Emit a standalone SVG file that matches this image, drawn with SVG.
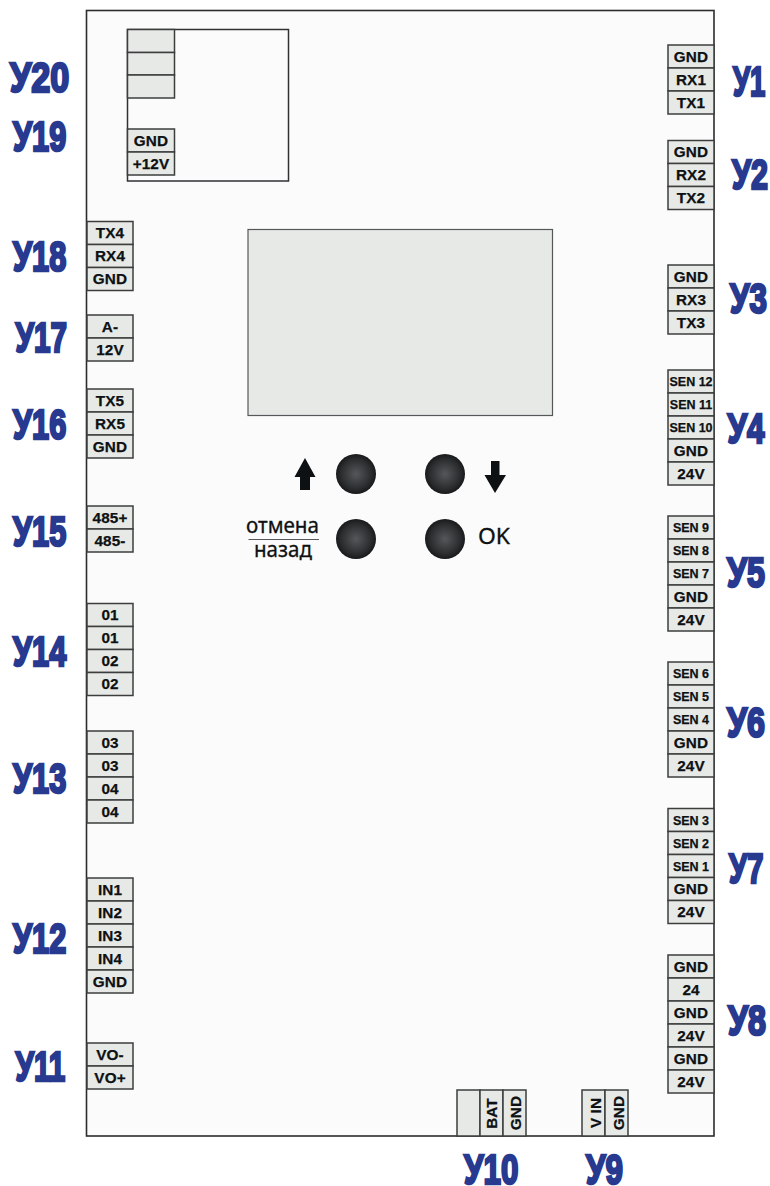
<svg xmlns="http://www.w3.org/2000/svg" width="770" height="1186" viewBox="0 0 770 1186">
<style>
.c{fill:#e7e9e6;stroke:#3c3e3e;stroke-width:1.5}
.t{font-family:"Liberation Sans",Arial,sans-serif;font-weight:700;font-size:15.300px;fill:#0d1113;stroke:#0d1113;stroke-width:.25;text-anchor:middle;letter-spacing:.1px}
.s{font-size:12.500px;letter-spacing:0}
.l{font-family:"Liberation Sans",Arial,sans-serif;font-weight:700;font-size:43px;fill:#273a8f;stroke:#273a8f;stroke-width:2.600}
.h{font-family:"Noto Sans","Open Sans",sans-serif;font-size:21px;fill:#0d1113;stroke:#0d1113;stroke-width:.3}
.b{fill:url(#btn)}
</style>
<defs>
<radialGradient id="btn"><stop offset="0" stop-color="#55585a"/><stop offset=".75" stop-color="#2a2c2e"/><stop offset="1" stop-color="#17191b"/></radialGradient>
</defs>
<rect width="770" height="1186" fill="#fff"/>
<g id="board">
<rect x="86.500" y="10.500" width="627.500" height="1125.500" fill="#fbfbfb" stroke="#2a2c2d" stroke-width="1.600"/>
<rect x="127.500" y="29.500" width="161" height="151.500" fill="#fbfbfb" stroke="#2f3132" stroke-width="1.500"/>
</g>
<g id="u20"><rect class="c" x="127.500" y="29.500" width="47" height="23"/><rect class="c" x="127.500" y="52.500" width="47" height="22.500"/><rect class="c" x="127.500" y="75" width="47" height="23"/></g>
<g id="u19"><rect class="c" x="127.500" y="129" width="47" height="23"/><text class="t" x="151" y="145.500">GND</text><rect class="c" x="127.500" y="152" width="47" height="23"/><text class="t" x="151" y="169">+12V</text></g>
<g id="screen"><rect x="248" y="229.500" width="304.500" height="186" fill="#e7e9e6" stroke="#55585a" stroke-width="1.200"/></g>
<g id="buttons">
<circle class="b" cx="356" cy="474" r="20"/><circle class="b" cx="445" cy="474" r="20"/><circle class="b" cx="356" cy="539" r="20"/><circle class="b" cx="445" cy="539" r="20"/>
<path d="M305 458L315.500 477H310V490H300V477H294.500Z" fill="#0d1113"/>
<path d="M495 493L484.500 475H491V461H499.500V475H506Z" fill="#0d1113"/>
<text class="h" x="246" y="533" textLength="73" lengthAdjust="spacingAndGlyphs">отмена</text>
<path d="M248.500 539.500H319" stroke="#55585a" stroke-width="1.200" fill="none"/>
<text class="h" x="254" y="557" textLength="58" lengthAdjust="spacingAndGlyphs">назад</text>
<text class="h" x="478" y="544" textLength="32" lengthAdjust="spacingAndGlyphs">OK</text>
</g>
<g id="u18"><rect class="c" x="87" y="221.500" width="46" height="23"/><text class="t" x="110" y="238">TX4</text><rect class="c" x="87" y="244.500" width="46" height="23"/><text class="t" x="110" y="261">RX4</text><rect class="c" x="87" y="267.500" width="46" height="23"/><text class="t" x="110" y="284">GND</text></g>
<g id="u17"><rect class="c" x="87" y="315" width="46" height="23"/><text class="t" x="110" y="331.500">A-</text><rect class="c" x="87" y="338" width="46" height="23"/><text class="t" x="110" y="354.500">12V</text></g>
<g id="u16"><rect class="c" x="87" y="389" width="46" height="23"/><text class="t" x="110" y="405.500">TX5</text><rect class="c" x="87" y="412" width="46" height="23"/><text class="t" x="110" y="428.500">RX5</text><rect class="c" x="87" y="435" width="46" height="23"/><text class="t" x="110" y="451.500">GND</text></g>
<g id="u15"><rect class="c" x="87" y="506" width="46" height="23"/><text class="t" x="110" y="522.500">485+</text><rect class="c" x="87" y="529" width="46" height="23"/><text class="t" x="110" y="545.500">485-</text></g>
<g id="u14"><rect class="c" x="87" y="603.500" width="46" height="23"/><text class="t" x="110" y="620">01</text><rect class="c" x="87" y="626.500" width="46" height="23"/><text class="t" x="110" y="643">01</text><rect class="c" x="87" y="649.500" width="46" height="23"/><text class="t" x="110" y="666">02</text><rect class="c" x="87" y="672.500" width="46" height="23"/><text class="t" x="110" y="689">02</text></g>
<g id="u13"><rect class="c" x="87" y="731" width="46" height="23"/><text class="t" x="110" y="747.500">03</text><rect class="c" x="87" y="754" width="46" height="23"/><text class="t" x="110" y="770.500">03</text><rect class="c" x="87" y="777" width="46" height="23"/><text class="t" x="110" y="793.500">04</text><rect class="c" x="87" y="800" width="46" height="23"/><text class="t" x="110" y="816.500">04</text></g>
<g id="u12"><rect class="c" x="87" y="878" width="46" height="23"/><text class="t" x="110" y="894.500">IN1</text><rect class="c" x="87" y="901" width="46" height="23"/><text class="t" x="110" y="917.500">IN2</text><rect class="c" x="87" y="924" width="46" height="23"/><text class="t" x="110" y="940.500">IN3</text><rect class="c" x="87" y="947" width="46" height="23"/><text class="t" x="110" y="963.500">IN4</text><rect class="c" x="87" y="970" width="46" height="23"/><text class="t" x="110" y="986.500">GND</text></g>
<g id="u11"><rect class="c" x="87" y="1043" width="46" height="23"/><text class="t" x="110" y="1059.500">VO-</text><rect class="c" x="87" y="1066" width="46" height="23"/><text class="t" x="110" y="1082.500">VO+</text></g>
<g id="u1"><rect class="c" x="668" y="45" width="46" height="23"/><text class="t" x="691" y="61.500">GND</text><rect class="c" x="668" y="68" width="46" height="23"/><text class="t" x="691" y="84.500">RX1</text><rect class="c" x="668" y="91" width="46" height="23"/><text class="t" x="691" y="107.500">TX1</text></g>
<g id="u2"><rect class="c" x="668" y="140.500" width="46" height="23"/><text class="t" x="691" y="157">GND</text><rect class="c" x="668" y="163.500" width="46" height="23"/><text class="t" x="691" y="180">RX2</text><rect class="c" x="668" y="186.500" width="46" height="23"/><text class="t" x="691" y="203">TX2</text></g>
<g id="u3"><rect class="c" x="668" y="265" width="46" height="23"/><text class="t" x="691" y="281.500">GND</text><rect class="c" x="668" y="288" width="46" height="23"/><text class="t" x="691" y="304.500">RX3</text><rect class="c" x="668" y="311" width="46" height="23"/><text class="t" x="691" y="327.500">TX3</text></g>
<g id="u4"><rect class="c" x="668" y="370" width="46" height="23"/><text class="t s" x="691" y="386">SEN 12</text><rect class="c" x="668" y="393" width="46" height="23"/><text class="t s" x="691" y="409">SEN 11</text><rect class="c" x="668" y="416" width="46" height="23"/><text class="t s" x="691" y="432">SEN 10</text><rect class="c" x="668" y="439" width="46" height="23"/><text class="t" x="691" y="455.500">GND</text><rect class="c" x="668" y="462" width="46" height="23"/><text class="t" x="691" y="478.500">24V</text></g>
<g id="u5"><rect class="c" x="668" y="516" width="46" height="23"/><text class="t s" x="691" y="532">SEN 9</text><rect class="c" x="668" y="539" width="46" height="23"/><text class="t s" x="691" y="555">SEN 8</text><rect class="c" x="668" y="562" width="46" height="23"/><text class="t s" x="691" y="578">SEN 7</text><rect class="c" x="668" y="585" width="46" height="23"/><text class="t" x="691" y="601.500">GND</text><rect class="c" x="668" y="608" width="46" height="23"/><text class="t" x="691" y="624.500">24V</text></g>
<g id="u6"><rect class="c" x="668" y="662" width="46" height="23"/><text class="t s" x="691" y="678">SEN 6</text><rect class="c" x="668" y="685" width="46" height="23"/><text class="t s" x="691" y="701">SEN 5</text><rect class="c" x="668" y="708" width="46" height="23"/><text class="t s" x="691" y="724">SEN 4</text><rect class="c" x="668" y="731" width="46" height="23"/><text class="t" x="691" y="747.500">GND</text><rect class="c" x="668" y="754" width="46" height="23"/><text class="t" x="691" y="770.500">24V</text></g>
<g id="u7"><rect class="c" x="668" y="808.500" width="46" height="23"/><text class="t s" x="691" y="824.500">SEN 3</text><rect class="c" x="668" y="831.500" width="46" height="23"/><text class="t s" x="691" y="847.500">SEN 2</text><rect class="c" x="668" y="854.500" width="46" height="23"/><text class="t s" x="691" y="870.500">SEN 1</text><rect class="c" x="668" y="877.500" width="46" height="23"/><text class="t" x="691" y="894">GND</text><rect class="c" x="668" y="900.500" width="46" height="23"/><text class="t" x="691" y="917">24V</text></g>
<g id="u8"><rect class="c" x="668" y="955" width="46" height="23"/><text class="t" x="691" y="971.500">GND</text><rect class="c" x="668" y="978" width="46" height="23"/><text class="t" x="691" y="994.500">24</text><rect class="c" x="668" y="1001" width="46" height="23"/><text class="t" x="691" y="1017.500">GND</text><rect class="c" x="668" y="1024" width="46" height="23"/><text class="t" x="691" y="1040.500">24V</text><rect class="c" x="668" y="1047" width="46" height="23"/><text class="t" x="691" y="1063.500">GND</text><rect class="c" x="668" y="1070" width="46" height="23"/><text class="t" x="691" y="1086.500">24V</text></g>
<g id="u10"><rect class="c" x="457" y="1090" width="23" height="46"/><rect class="c" x="480" y="1090" width="23" height="46"/><text class="t" transform="translate(497 1113.500) rotate(-90)">BAT</text><rect class="c" x="503" y="1090" width="23" height="46"/><text class="t" transform="translate(520.500 1113) rotate(-90)">GND</text></g>
<g id="u9"><rect class="c" x="582" y="1090" width="23" height="46"/><text class="t" transform="translate(601 1113) rotate(-90)">V IN</text><rect class="c" x="605" y="1090" width="23" height="46"/><text class="t" transform="translate(624 1113) rotate(-90)">GND</text></g>
<g id="labels">
<text class="l" transform="translate(10 92) scale(.795 1)">У20</text>
<text class="l" transform="translate(13 151) scale(.715 1)">У19</text>
<text class="l" transform="translate(13 271) scale(.715 1)">У18</text>
<text class="l" transform="translate(15.500 352) scale(.69 1)">У17</text>
<text class="l" transform="translate(13 439) scale(.715 1)">У16</text>
<text class="l" transform="translate(13 546) scale(.715 1)">У15</text>
<text class="l" transform="translate(13 666) scale(.715 1)">У14</text>
<text class="l" transform="translate(13 793) scale(.715 1)">У13</text>
<text class="l" transform="translate(13 953) scale(.715 1)">У12</text>
<text class="l" transform="translate(15.500 1081) scale(.69 1)">У11</text>
<text class="l" transform="translate(733 96) scale(.64 1)">У1</text>
<text class="l" transform="translate(732 189) scale(.71 1)">У2</text>
<text class="l" transform="translate(730 313) scale(.73 1)">У3</text>
<text class="l" transform="translate(727.500 442.500) scale(.73 1)">У4</text>
<text class="l" transform="translate(727 587) scale(.75 1)">У5</text>
<text class="l" transform="translate(727 737) scale(.75 1)">У6</text>
<text class="l" transform="translate(729 883) scale(.68 1)">У7</text>
<text class="l" transform="translate(728 1035) scale(.75 1)">У8</text>
<text class="l" transform="translate(464 1184) scale(.73 1)">У10</text>
<text class="l" transform="translate(586 1184) scale(.73 1)">У9</text>
</g>
</svg>
